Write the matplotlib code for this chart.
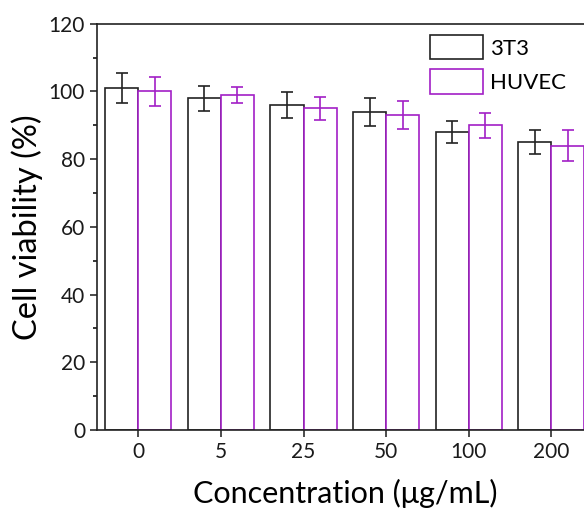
import numpy as np
import matplotlib.pyplot as plt
from matplotlib.ticker import MultipleLocator

plt.rcParams['font.family'] = ['Lato', 'DejaVu Sans']

# viability data (%), mean and SD
conc = ['0', '5', '25', '50', '100', '200']
t3t3 = [101, 98, 96, 94, 88, 85]
t3t3_sd = [4.5, 3.7, 3.8, 4.1, 3.3, 3.6]
huvec = [100, 99, 95, 93, 90, 84]
huvec_sd = [4.2, 2.3, 3.3, 4.2, 3.7, 4.5]

black = '#222222'
purple = '#a21fc6'

fig = plt.figure(figsize=(5.84, 5.11), dpi=100)
ax = fig.add_axes([0.166, 0.1585, 0.849, 0.795])

x = np.arange(len(conc))
w = 0.4
err_kw = dict(elinewidth=1.2, capsize=4, capthick=1.2)
ax.bar(x - w / 2, t3t3, w, yerr=t3t3_sd, facecolor='white', edgecolor=black,
       linewidth=1.2, ecolor=black, error_kw=err_kw, label='3T3')
ax.bar(x + w / 2, huvec, w, yerr=huvec_sd, facecolor='white', edgecolor=purple,
       linewidth=1.2, ecolor=purple, error_kw=err_kw, label='HUVEC')

ax.set_xlim(-0.5, 5.5)
ax.set_ylim(0, 120)
ax.set_xticks(x)
ax.set_xticklabels(conc)
ax.yaxis.set_major_locator(MultipleLocator(20))
ax.yaxis.set_minor_locator(MultipleLocator(10))
ax.tick_params(axis='both', which='major', direction='out', length=5, width=1.1,
               labelsize=15, colors='#1a1a1a')
ax.tick_params(axis='y', which='minor', direction='out', length=3, width=1.1)
for s in ax.spines.values():
    s.set_linewidth(1.2)
    s.set_color('#222222')

ax.set_xlabel('Concentration (μg/mL)', fontsize=22, labelpad=12)
ax.set_ylabel('Cell viability (%)', fontsize=23.5, labelpad=4)

ax.legend(loc='upper left', bbox_to_anchor=(0.653, 0.994), frameon=False,
          fontsize=16, handlelength=2.4, handleheight=1.3, labelspacing=0.45,
          handletextpad=0.3, borderaxespad=0)

fig.savefig('out.png', dpi=100)
